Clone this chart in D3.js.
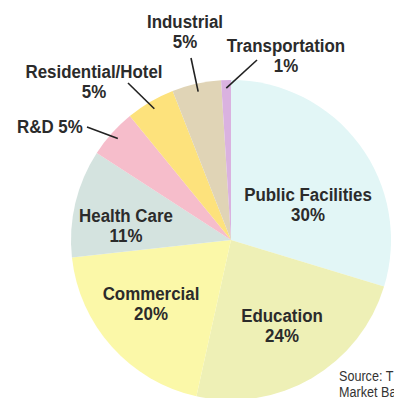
<!DOCTYPE html>
<html>
<head>
<meta charset="utf-8">
<script src="https://cdn.jsdelivr.net/npm/d3@7"></script>
<style>
    body { margin: 0; background: #fff; }
    text { font-family: "Liberation Sans", Arial, sans-serif; }
</style>
</head>
<body>
<div id="chart"></div>
<script>
var categories = ["Public Facilities", "Education", "Commercial", "Health Care", "R&D", "Residential/Hotel", "Industrial", "Transportation"];
var shares = [30, 24, 20, 11, 5, 5, 5, 1];
var colors = ["#e2f6f6", "#eef0b6", "#fbf8a8", "#d4e3df", "#f6bdcb", "#fde27c", "#e0d4b6", "#dab2e0"];

// label placement: x, y of first line baseline; lead = outer end of leader line
var labelPos = {
    "Public Facilities": {x: 308, y: 201},
    "Education": {x: 282, y: 322},
    "Commercial": {x: 151, y: 300},
    "Health Care": {x: 126, y: 222},
    "R&D": {x: 17, y: 133, inline: true, anchor: "start", lead: [87, 127]},
    "Residential/Hotel": {x: 94, y: 78, lead: [128, 83]},
    "Industrial": {x: 185, y: 28, lead: [191, 58]},
    "Transportation": {x: 286, y: 52, lead: [257, 60]}
};

var width = 394,
    height = 398,
    cx = 231, cy = 240,
    radius = 160,
    squeeze = 0.89;

var svg = d3.select("#chart")
    .append("svg")
    .attr("width", width)
    .attr("height", height);

var g = svg.append("g")
    .attr("transform", "translate(" + cx + "," + cy + ")");

var pie = d3.pie().sort(null).value(function (d) { return d; });
var arcs = pie(shares);

var arc = d3.arc().innerRadius(0).outerRadius(radius);
var leadArc = d3.arc().innerRadius(152).outerRadius(152);

g.selectAll(".slice")
    .data(arcs)
    .enter().append("path")
    .attr("class", "slice")
    .attr("d", arc)
    .attr("fill", function (d, i) { return colors[i]; });

// leader lines
arcs.forEach(function (d, i) {
    var p = labelPos[categories[i]];
    if (!p.lead) return;
    var c = leadArc.centroid(d);
    svg.append("line")
        .attr("x1", p.lead[0]).attr("y1", p.lead[1])
        .attr("x2", cx + c[0]).attr("y2", cy + c[1])
        .attr("stroke", "#222")
        .attr("stroke-width", 1.6);
});

// labels (condensed by a horizontal squeeze)
arcs.forEach(function (d, i) {
    var name = categories[i];
    var p = labelPos[name];
    var t = svg.append("text")
        .attr("transform", "translate(" + p.x + "," + p.y + ") scale(" + squeeze + ",1)")
        .attr("text-anchor", p.anchor || "middle")
        .attr("font-size", 19)
        .attr("font-weight", "bold")
        .attr("fill", "#2b2b2b");
    if (p.inline) {
        t.text(name + " " + shares[i] + "%");
    } else {
        t.append("tspan").attr("x", 0).text(name);
        t.append("tspan").attr("x", 0).attr("dy", 20).text(shares[i] + "%");
    }
});

var source = svg.append("text")
    .attr("transform", "translate(339,381) scale(0.84,1)")
    .attr("font-size", 15)
    .attr("fill", "#333");
source.append("tspan").attr("x", 0).text("Source: T");
source.append("tspan").attr("x", 0).attr("dy", 16).text("Market Ba");
</script>
</body>
</html>
